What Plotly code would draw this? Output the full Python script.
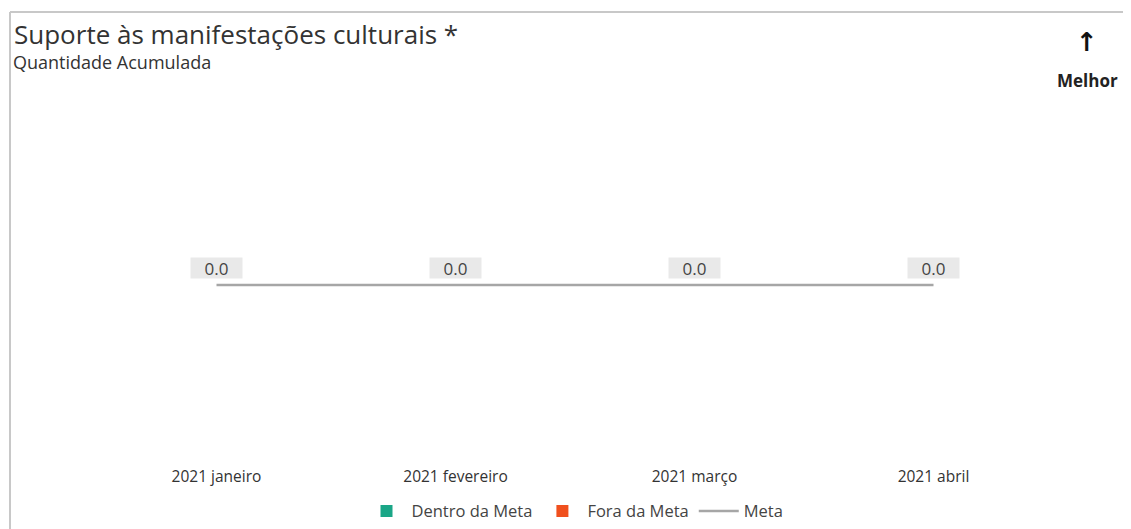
import plotly.graph_objects as go

# chart data
meses = ['2021 janeiro', '2021 fevereiro', '2021 março', '2021 abril']
dentro_meta = [0, 0, 0, 0]
fora_meta = [0, 0, 0, 0]
meta = [0, 0, 0, 0]
rotulos = ['0.0', '0.0', '0.0', '0.0']

FONTE = 'Open Sans, Noto Sans, sans-serif'

fig = go.Figure()
fig.add_trace(go.Bar(x=meses, y=dentro_meta, name='Dentro da Meta',
                     marker=dict(color='#1aa687', line=dict(width=0))))
fig.add_trace(go.Bar(x=meses, y=fora_meta, name='Fora da Meta',
                     marker=dict(color='#f0501e', line=dict(width=0))))
fig.add_trace(go.Scatter(x=meses, y=meta, name='Meta', mode='lines',
                         line=dict(color='#a6a6a6', width=2.5)))

# value labels with grey boxes above the goal line
for mes, v, txt in zip(meses, meta, rotulos):
    fig.add_annotation(x=mes, y=v, text=txt, showarrow=False, yshift=17,
                       width=51, height=20, bgcolor='#e9e9e9', borderpad=0,
                       font=dict(size=17, color='#444', family=FONTE))

# subtitle and "better" indicator
fig.add_annotation(x=-0.0895, y=1.119, xref='paper', yref='paper',
                   xanchor='left', yanchor='middle', showarrow=False,
                   text='Quantidade Acumulada',
                   font=dict(size=18, color='#333', family=FONTE))
fig.add_annotation(x=1.0356, y=1.175, xref='paper', yref='paper',
                   xanchor='center', yanchor='middle',
                   showarrow=False, text='<b>↑</b>',
                   font=dict(size=26, color='#111', family='DejaVu Sans'))
fig.add_annotation(x=1.0356, y=1.069, xref='paper', yref='paper',
                   xanchor='center', yanchor='middle',
                   showarrow=False, text='<b>Melhor</b>',
                   font=dict(size=17, color='#222', family=FONTE))

# card border (top and left)
fig.add_shape(type='line', xref='paper', yref='paper',
              x0=-0.091, x1=-0.091, y0=-0.2, y1=1.258,
              line=dict(color='#c8c8c8', width=2))
fig.add_shape(type='line', xref='paper', yref='paper',
              x0=-0.091, x1=1.1, y0=1.258, y1=1.258,
              line=dict(color='#c8c8c8', width=2))

fig.update_layout(
    width=1123, height=521,
    margin=dict(l=89, r=78, t=97, b=64, autoexpand=False),
    paper_bgcolor='white', plot_bgcolor='white',
    title=dict(text='Suporte às manifestações culturais *',
               x=6 / 1123, xref='container', xanchor='left',
               y=1 - 27 / 521, yref='container', yanchor='middle',
               font=dict(size=26, color='#333', family=FONTE)),
    barmode='group',
    showlegend=True,
    legend=dict(orientation='h', x=0.5, xanchor='center', y=-0.08,
                yanchor='top', itemwidth=40,
                font=dict(size=16.5, color='#444', family=FONTE)),
    xaxis=dict(showgrid=False, showline=False, zeroline=False,
               tickfont=dict(size=15.5, color='#333', family=FONTE)),
    yaxis=dict(range=[-1, 1], visible=False, zeroline=False),
)

fig.write_html('out.html')
